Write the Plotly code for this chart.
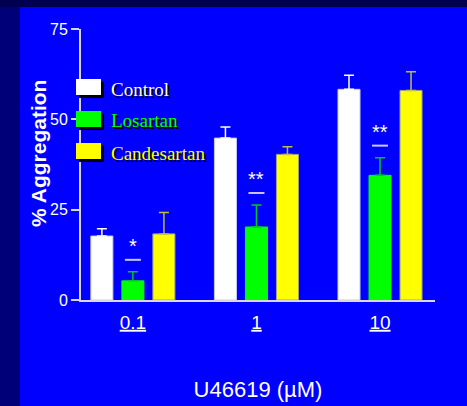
import plotly.graph_objects as go

# ---- data ----
doses = ["0.1", "1", "10"]
series = ["Control", "Losartan", "Candesartan"]
control = [17.7, 44.8, 58.3]
control_err = [2.0, 3.1, 3.9]
losartan = [5.3, 20.2, 34.5]
losartan_err = [2.5, 6.1, 4.9]
candesartan = [18.3, 40.3, 58.0]
candesartan_err = [5.9, 2.1, 5.2]
significance = ["*", "**", "**"]
y_ticks = [0, 25, 50, 75]

W, H = 467, 406
L, R, T, B = 81, 32, 29, 106
PW, PH = W - L - R, H - T - B

def px(x):
    return (x - L) / PW

def py(y):
    return (H - B - y) / PH

BLUE = "#0000ff"
fill = {"Control": "#ffffff", "Losartan": "#00ff00", "Candesartan": "#ffff00"}
errc = {"Control": "#ffffff", "Losartan": "#00c820", "Candesartan": "#c0c040"}
edge = {"Control": "#c8c8f0", "Losartan": "#00ff00", "Candesartan": "#a0a080"}
vals = {"Control": (control, control_err), "Losartan": (losartan, losartan_err),
        "Candesartan": (candesartan, candesartan_err)}

fig = go.Figure()
for s in series:
    v, e = vals[s]
    fig.add_trace(go.Bar(
        x=doses, y=v, name=s,
        marker=dict(color=fill[s], line=dict(color=edge[s], width=1)),
        error_y=dict(type="data", array=e, arrayminus=[0] * len(e), symmetric=False,
                     color=errc[s], thickness=1.5, width=5),
        showlegend=False,
    ))

annotations = []
shapes = []
# significance marks above Losartan bars (category index = group centre)
for i, d in enumerate(doses):
    top = losartan[i] + losartan_err[i]
    shapes.append(dict(type="line", xref="x", yref="y", xanchor=i, yanchor=top,
                       xsizemode="pixel", ysizemode="pixel", x0=-8, x1=8, y0=12, y1=12,
                       line=dict(color="#c8c8ff", width=2)))
    annotations.append(dict(x=i, y=top, xref="x", yref="y", text=significance[i], showarrow=False,
                            yshift=26, font=dict(family="Liberation Sans, Arial", size=20, color="#ffffff")))

# background bands
shapes.append(dict(type="rect", xref="paper", yref="paper", x0=px(0), x1=px(20), y0=py(H), y1=py(0),
                   fillcolor="#000078", line=dict(width=0), layer="below"))
shapes.append(dict(type="rect", xref="paper", yref="paper", x0=px(0), x1=px(W), y0=py(7), y1=py(0),
                   fillcolor="#000050", line=dict(width=0), layer="below"))

# legend (boxes with shadow)
leg_y = [79, 111, 143]
for s, y0 in zip(series, leg_y):
    shapes.append(dict(type="rect", xref="paper", yref="paper", x0=px(79), x1=px(104),
                       y0=py(y0 + 19), y1=py(y0 + 3), fillcolor="#000000", line=dict(width=0), layer="above"))
    shapes.append(dict(type="rect", xref="paper", yref="paper", x0=px(76), x1=px(101),
                       y0=py(y0 + 16), y1=py(y0), fillcolor=fill[s], line=dict(width=0), layer="above"))
    annotations.append(dict(x=px(109), y=py(y0 + 10), xref="paper", yref="paper", text=s,
                            showarrow=False, xanchor="left", yanchor="middle",
                            font=dict(family="Liberation Serif, Times New Roman", size=19,
                                      color=fill[s], shadow="2px 2px 0px #000000")))

# y-axis title
annotations.append(dict(x=px(38), y=py(154), xref="paper", yref="paper", text="% Aggregation",
                        textangle=-90, showarrow=False, xanchor="center", yanchor="middle",
                        font=dict(family="Liberation Sans, Arial", size=21, color="#ffffff", weight="bold")))

fig.update_layout(
    width=W, height=H,
    margin=dict(l=L, r=R, t=T, b=B),
    paper_bgcolor=BLUE, plot_bgcolor=BLUE,
    barmode="group", bargap=0.247, bargroupgap=0.29,
    font=dict(family="Liberation Sans, Arial", color="#ffffff"),
    shapes=shapes, annotations=annotations,
    xaxis=dict(type="category", range=[-0.42, 2.445], showgrid=False, zeroline=False,
               showline=True, linecolor="#d8d8d8", linewidth=2, ticks="", automargin=False,
               tickvals=doses, ticktext=["<u>%s</u>" % d for d in doses],
               tickfont=dict(size=19, color="#ffffff"), ticklabelstandoff=4,
               title=dict(text="U46619 (µM)", font=dict(size=22, color="#ffffff"), standoff=50)),
    yaxis=dict(range=[0, 75], tickvals=y_ticks, showgrid=False, zeroline=False, automargin=False,
               showline=True, linecolor="#d8d8d8", linewidth=2, ticks="outside", ticklen=8,
               tickcolor="#d8d8d8", tickwidth=2,
               tickfont=dict(size=16, color="#ffffff")),
)

fig.write_html("out.html")
